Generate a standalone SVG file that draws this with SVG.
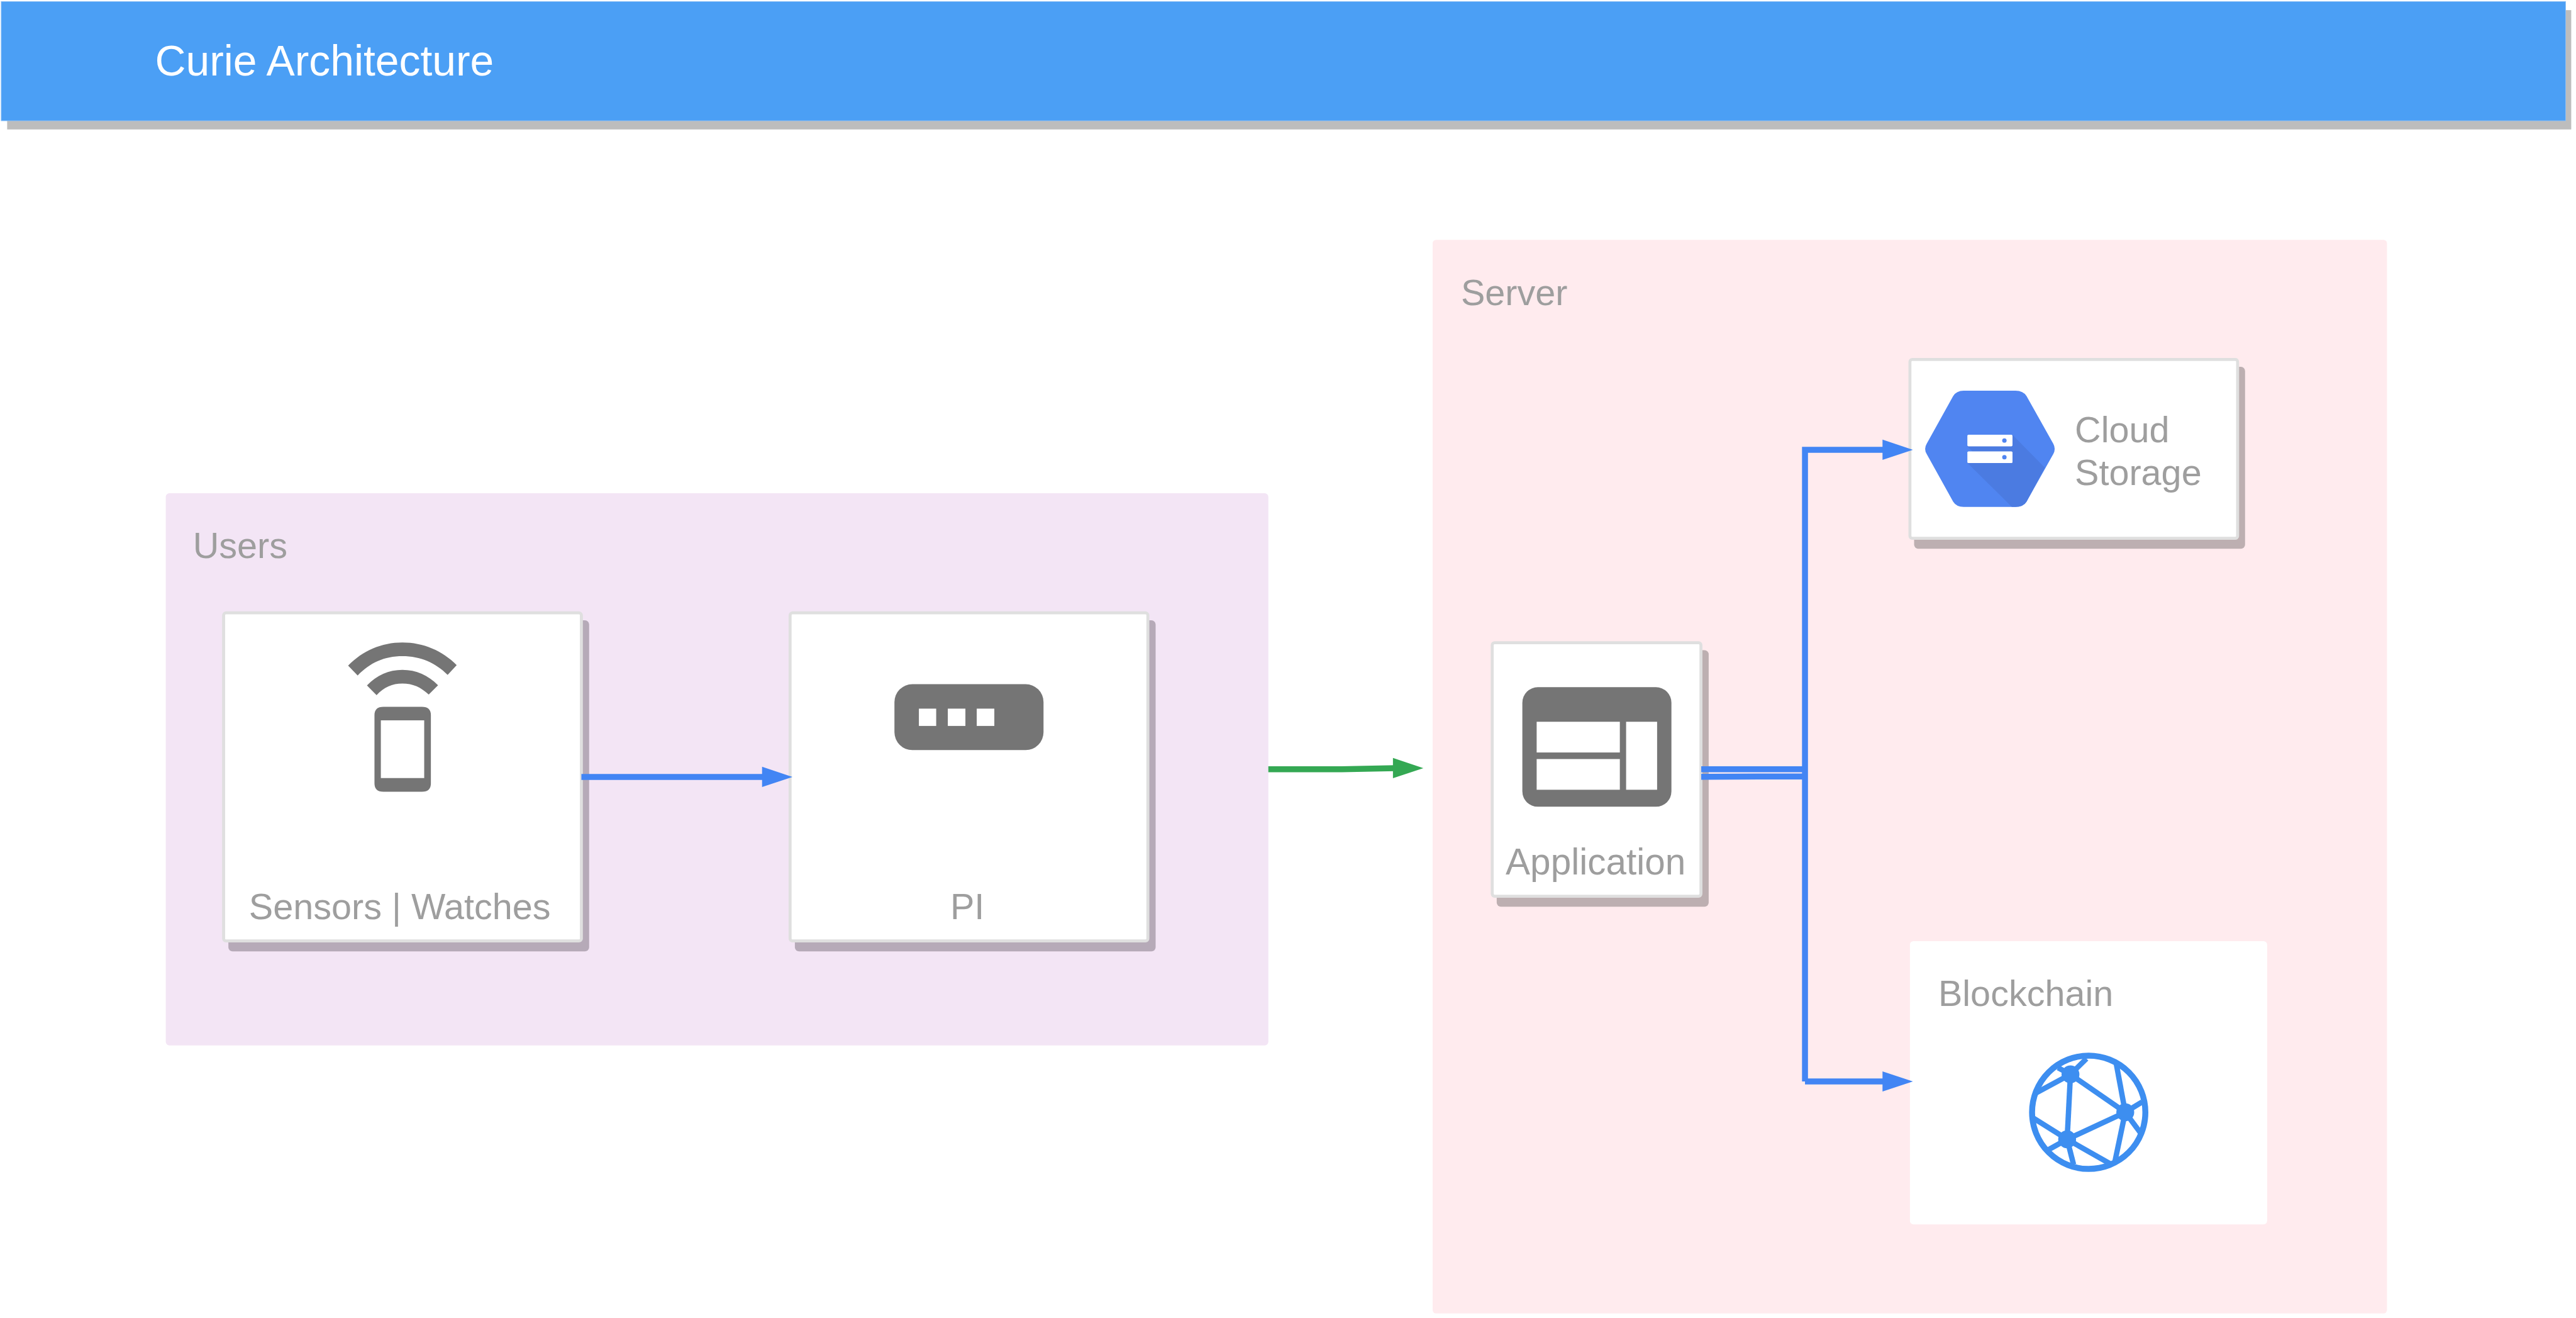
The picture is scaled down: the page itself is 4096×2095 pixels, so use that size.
<svg xmlns="http://www.w3.org/2000/svg" width="4096" height="2095" viewBox="0 0 4096 2095">
<style>
text{font-family:"Liberation Sans",Arial,sans-serif;font-size:60.700px;fill:#9e9e9e}
.card{fill:#fff;stroke:#dfdfdf;stroke-width:5}
.sh1{fill:#b6aab8}.sh2{fill:#bdafb1}
.ico{fill:#757575}
.win{fill:#fff}
.conn{fill:none;stroke:#4285f4;stroke-width:10}
.net line{stroke:#3d8ef0;stroke-width:9}
.net circle.n{fill:#3d8ef0}
</style>
<defs>
<polygon id="head" points="-51,-17 0,0 -51,17"/>
</defs>
<rect width="4096" height="2095" fill="#fff"/>
<g transform="scale(0.94815)">
<g id="header">
<rect x="12" y="17" width="4300" height="200" fill="#bdbdbd"/>
<rect x="2" y="2.500" width="4300.500" height="200" fill="#4b9ff5" stroke="#8dc0f5" stroke-width="1"/>
<text x="260" y="127" style="font-size:71.500px;fill:#fff">Curie Architecture</text>
</g>
<g id="users">
<rect x="278" y="827" width="1849" height="925.500" rx="6" fill="#f3e5f5"/>
<text x="323.500" y="936">Users</text>
</g>
<g id="server">
<rect x="2402.500" y="402" width="1600.500" height="1800" rx="6" fill="#ffebee"/>
<text x="2450" y="511">Server</text>
</g>
<g id="sensors">
<rect class="sh1" x="383" y="1040" width="605" height="555" rx="7"/>
<rect class="card" x="375" y="1027.500" width="600" height="550" rx="4"/>
<path class="ico" d="M583.800 1115.900C608 1091 640 1077.100 674.800 1077.100C710 1077.100 742 1091 765.900 1115L750.700 1131.300C730 1111 705 1100 674.800 1100C645 1100 620 1111 599.800 1132.500Z"/>
<path class="ico" d="M615.400 1149C632 1132 652 1123 674.800 1123C698 1123 718 1132 734.600 1148.700L719 1164.500C706 1152 692 1145.900 674.800 1145.900C658 1145.900 644 1152 631.500 1165.300Z"/>
<path class="ico" fill-rule="evenodd" d="M643 1185H707.600Q722.600 1185 722.600 1199V1313.400Q722.600 1327.400 707.600 1327.400H643Q628 1327.400 628 1313.400V1199Q628 1185 643 1185ZM638.700 1207.600V1304.500H711.400V1207.600Z"/>
<text x="417.500" y="1541">Sensors | Watches</text>
</g>
<g id="pi">
<rect class="sh1" x="1333" y="1040" width="605" height="555" rx="7"/>
<rect class="card" x="1325" y="1027.500" width="600" height="550" rx="4"/>
<rect class="ico" x="1500" y="1147" width="250" height="110.500" rx="30"/>
<rect class="win" x="1541" y="1188" width="29" height="29"/>
<rect class="win" x="1589.500" y="1188" width="29.500" height="29"/>
<rect class="win" x="1638" y="1188" width="29.500" height="29"/>
<text x="1593.500" y="1541">PI</text>
</g>
<g id="application">
<rect class="sh2" x="2510" y="1090" width="355.500" height="430" rx="7"/>
<rect class="card" x="2502.500" y="1077.500" width="350" height="425" rx="4"/>
<rect class="ico" x="2553" y="1152" width="250" height="200.500" rx="26"/>
<rect class="win" x="2577" y="1210" width="139.500" height="51.500"/>
<rect class="win" x="2577" y="1272.500" width="139.500" height="51.500"/>
<rect class="win" x="2727" y="1210" width="52" height="114"/>
<text x="2525" y="1466" style="font-size:61.700px">Application</text>
</g>
<g id="cloud-storage">
<rect class="sh2" x="3210" y="615" width="555" height="305" rx="7"/>
<rect class="card" x="3203" y="602.500" width="549.500" height="300" rx="4"/>
<path fill="#5085f1" d="M3293 655H3380Q3393 655 3398.500 664L3443.500 744Q3448 752.300 3443.500 761L3398.500 841Q3393 849.700 3380 849.700H3293Q3281 849.700 3275.500 841L3231 761Q3226 752.300 3231 744L3275.500 664Q3281 655 3293 655Z"/>
<path fill="#4b7be1" d="M3375 729L3429 784L3398.500 841Q3393 849.700 3380 849.700H3374L3299.300 776L3308 757L3299.300 748Z"/>
<rect class="win" x="3299.300" y="728.700" width="75.700" height="19.600" rx="2"/>
<rect class="win" x="3299.300" y="756.700" width="75.700" height="19.600" rx="2"/>
<circle cx="3361.400" cy="738.500" r="3.700" fill="#5085f1"/>
<circle cx="3361.400" cy="766.500" r="3.700" fill="#5085f1"/>
<text x="3479.500" y="741.300">Cloud</text>
<text x="3479.500" y="812.700">Storage</text>
</g>
<g id="blockchain">
<rect x="3203" y="1577.700" width="599" height="475" rx="6" fill="#fff"/>
<text x="3250.500" y="1686">Blockchain</text>
<g class="net">
<circle cx="3502.800" cy="1864.700" r="95" fill="none" stroke="#3d8ef0" stroke-width="10"/>
<line x1="3472.200" y1="1801.200" x2="3564.100" y2="1864.700"/>
<line x1="3564.100" y1="1864.700" x2="3466.600" y2="1910"/>
<line x1="3472.200" y1="1801.200" x2="3466.600" y2="1910"/>
<line x1="3472.200" y1="1801.200" x2="3414.500" y2="1832.300"/>
<line x1="3472.200" y1="1801.200" x2="3451.400" y2="1790"/>
<line x1="3472.200" y1="1801.200" x2="3499" y2="1774.800"/>
<line x1="3564.100" y1="1864.700" x2="3549" y2="1783.300"/>
<line x1="3564.100" y1="1864.700" x2="3592.300" y2="1847.500"/>
<line x1="3564.100" y1="1864.700" x2="3588.900" y2="1898.200"/>
<line x1="3564.100" y1="1864.700" x2="3546.800" y2="1947.200"/>
<line x1="3466.600" y1="1910" x2="3410.200" y2="1874.500"/>
<line x1="3466.600" y1="1910" x2="3436.200" y2="1927"/>
<line x1="3466.600" y1="1910" x2="3477.400" y2="1952.300"/>
<line x1="3466.600" y1="1910" x2="3538.100" y2="1950.600"/>
<circle class="n" cx="3472.200" cy="1801.200" r="15"/>
<circle class="n" cx="3564.100" cy="1864.700" r="15"/>
<circle class="n" cx="3466.600" cy="1910" r="15"/>
</g>
</g>
<g id="connectors">
<path class="conn" d="M975 1302.500H1285"/>
<use href="#head" x="1329" y="1302.500" fill="#4285f4"/>
<path d="M2127 1289.500H2250L2340 1287.700" fill="none" stroke="#34a853" stroke-width="10"/>
<use href="#head" x="2387" y="1287.700" fill="#34a853"/>
<path class="conn" d="M2853 1289.700H3027M2853 1302.200L3027 1301.500M3027 1813V754H3165M3027 1813H3165"/>
<use href="#head" x="3208" y="754" fill="#4285f4"/>
<use href="#head" x="3208" y="1813" fill="#4285f4"/>
</g>
</g>
</svg>
